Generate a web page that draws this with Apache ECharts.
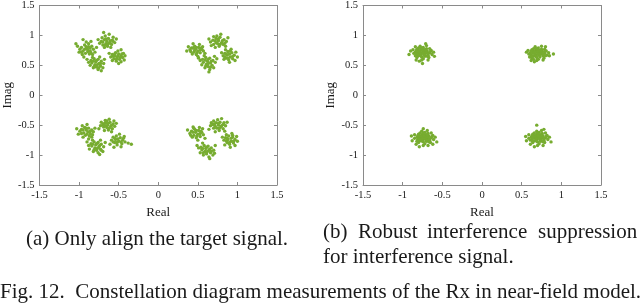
<!DOCTYPE html>
<html>
<head>
<meta charset="utf-8">
<script src="https://cdn.jsdelivr.net/npm/echarts@6/dist/echarts.min.js"></script>
<style>
html,body{margin:0;padding:0;background:#fff;}
#chart{width:640px;height:303px;}
</style>
</head>
<body>
<div id="chart"></div>
<script>
// ---- data ----
const axisTicks = [-1.5, -1, -0.5, 0, 0.5, 1, 1.5];
const xName = 'Real';
const yName = 'Imag';
const captionA = '(a) Only align the target signal.';
const captionB1 = ['(b)', 'Robust', 'interference', 'suppression'];
const captionB2 = 'for interference signal.';
const figCaption = 'Fig. 12.  Constellation diagram measurements of the Rx in near-field model.';

// (a) Only align the target signal: four quadrants, each several sub-clusters
const aTopLeft = [
 [-0.97,0.80],[-0.93,0.84],[-0.88,0.86],[-0.84,0.82],[-0.90,0.78],[-0.95,0.74],[-0.99,0.77],[-0.86,0.74],[-0.82,0.77],[-0.92,0.70],[-0.87,0.69],[-0.80,0.72],[-0.96,0.68],[-1.02,0.82],[-0.91,0.89],[-0.85,0.90],[-0.78,0.80],[-0.94,0.64],[-0.89,0.73],[-0.83,0.68],[-1.00,0.72],[-0.88,0.81],
 [-0.91,0.81],[-0.86,0.79],[-0.93,0.77],[-0.89,0.76],[-0.85,0.71],[-0.97,0.72],
 [-0.72,0.90],[-0.68,0.93],[-0.63,0.95],[-0.58,0.92],[-0.61,0.88],[-0.66,0.86],[-0.70,0.84],[-0.74,0.87],[-0.64,0.82],[-0.59,0.85],[-0.55,0.88],[-0.67,0.99],[-0.62,1.02],[-0.69,1.05],[-0.57,0.97],[-0.76,0.93],[-0.71,0.96],[-0.60,0.80],[-0.53,0.94],[-0.65,0.90],[-0.68,0.80],
 [-0.66,0.94],[-0.61,0.91],[-0.70,0.89],[-0.63,0.86],[-0.57,0.90],[-0.67,0.84],
 [-0.58,0.68],[-0.54,0.71],[-0.50,0.69],[-0.47,0.66],[-0.52,0.63],[-0.56,0.61],[-0.60,0.64],[-0.49,0.60],[-0.45,0.63],[-0.53,0.57],[-0.58,0.58],[-0.44,0.70],[-0.51,0.74],[-0.62,0.70],[-0.47,0.56],[-0.55,0.66],[-0.42,0.66],[-0.50,0.53],
 [-0.55,0.69],[-0.51,0.66],[-0.48,0.63],[-0.53,0.60],[-0.57,0.65],[-0.46,0.69],
 [-0.85,0.58],[-0.81,0.61],[-0.76,0.60],[-0.72,0.57],[-0.75,0.53],[-0.80,0.51],[-0.84,0.54],[-0.88,0.55],[-0.78,0.47],[-0.73,0.49],[-0.69,0.53],[-0.82,0.46],[-0.76,0.43],[-0.70,0.46],[-0.86,0.50],[-0.79,0.56],[-0.68,0.60],[-0.74,0.64],[-0.90,0.60],[-0.72,0.41],[-0.83,0.63],
 [-0.82,0.57],[-0.78,0.58],[-0.77,0.51],[-0.81,0.48],[-0.73,0.53],[-0.75,0.46],
 [-1.04,0.86],[-0.47,0.76],[-0.95,0.93],[-0.43,0.59]
];
const aTopRight = [
 [0.42,0.79],[0.46,0.82],[0.51,0.80],[0.55,0.77],[0.50,0.74],[0.45,0.72],[0.40,0.76],[0.53,0.71],[0.57,0.74],[0.48,0.68],[0.43,0.69],[0.56,0.81],[0.38,0.81],[0.52,0.85],[0.47,0.77],[0.59,0.70],[0.44,0.86],[0.36,0.74],[0.50,0.65],[0.54,0.79],
 [0.44,0.79],[0.48,0.80],[0.49,0.71],[0.53,0.76],[0.41,0.73],[0.46,0.75],
 [0.69,0.92],[0.73,0.95],[0.78,0.97],[0.83,0.93],[0.80,0.88],[0.75,0.86],[0.70,0.85],[0.66,0.89],[0.77,0.82],[0.82,0.85],[0.86,0.90],[0.74,0.99],[0.79,1.02],[0.70,0.98],[0.88,0.96],[0.64,0.94],[0.72,0.80],[0.85,0.82],[0.76,0.91],[0.67,0.83],
 [0.72,0.91],[0.76,0.94],[0.81,0.91],[0.78,0.85],[0.73,0.88],[0.84,0.87],
 [0.84,0.70],[0.88,0.73],[0.93,0.71],[0.96,0.67],[0.91,0.64],[0.86,0.62],[0.82,0.66],[0.89,0.59],[0.94,0.61],[0.98,0.72],[0.85,0.76],[0.80,0.71],[0.92,0.77],[0.97,0.58],[0.87,0.67],[0.83,0.60],[1.00,0.64],[0.90,0.55],
 [0.86,0.69],[0.90,0.69],[0.94,0.65],[0.88,0.62],[0.91,0.74],[0.84,0.64],
 [0.56,0.60],[0.60,0.63],[0.65,0.62],[0.69,0.58],[0.66,0.54],[0.61,0.52],[0.57,0.55],[0.53,0.58],[0.63,0.48],[0.68,0.50],[0.72,0.55],[0.59,0.46],[0.65,0.43],[0.70,0.46],[0.55,0.51],[0.62,0.57],[0.74,0.61],[0.58,0.66],[0.64,0.39],[0.51,0.62],[0.71,0.65],
 [0.59,0.59],[0.63,0.60],[0.67,0.57],[0.63,0.53],[0.60,0.49],[0.66,0.47]
];
const aBottomLeft = [
 [-0.97,-0.57],[-0.93,-0.54],[-0.88,-0.55],[-0.84,-0.58],[-0.89,-0.61],[-0.94,-0.63],[-0.99,-0.60],[-0.86,-0.64],[-0.82,-0.61],[-0.92,-0.67],[-0.87,-0.68],[-0.96,-0.51],[-1.01,-0.65],[-0.90,-0.49],[-0.80,-0.55],[-0.95,-0.70],[-0.84,-0.70],[-0.91,-0.58],[-1.03,-0.56],[-0.88,-0.73],
 [-0.95,-0.58],[-0.91,-0.55],[-0.86,-0.60],[-0.90,-0.65],[-0.97,-0.64],[-0.83,-0.66],
 [-0.70,-0.49],[-0.66,-0.46],[-0.61,-0.45],[-0.57,-0.48],[-0.60,-0.52],[-0.65,-0.54],[-0.69,-0.53],[-0.73,-0.51],[-0.63,-0.58],[-0.58,-0.56],[-0.55,-0.52],[-0.67,-0.42],[-0.62,-0.40],[-0.72,-0.45],[-0.56,-0.43],[-0.75,-0.56],[-0.68,-0.59],[-0.53,-0.47],[-0.64,-0.50],[-0.59,-0.61],
 [-0.68,-0.47],[-0.63,-0.47],[-0.59,-0.50],[-0.62,-0.55],[-0.67,-0.51],[-0.65,-0.43],
 [-0.57,-0.70],[-0.53,-0.68],[-0.48,-0.71],[-0.45,-0.75],[-0.50,-0.77],[-0.55,-0.79],[-0.59,-0.75],[-0.52,-0.83],[-0.46,-0.81],[-0.42,-0.78],[-0.61,-0.82],[-0.49,-0.65],[-0.43,-0.69],[-0.56,-0.87],[-0.38,-0.80],[-0.54,-0.74],[-0.47,-0.86],[-0.34,-0.82],
 [-0.55,-0.72],[-0.51,-0.73],[-0.47,-0.78],[-0.52,-0.79],[-0.57,-0.78],[-0.44,-0.72],
 [-0.85,-0.81],[-0.81,-0.78],[-0.76,-0.79],[-0.72,-0.82],[-0.75,-0.86],[-0.80,-0.88],[-0.84,-0.85],[-0.88,-0.84],[-0.78,-0.92],[-0.73,-0.90],[-0.69,-0.86],[-0.82,-0.94],[-0.76,-0.96],[-0.70,-0.94],[-0.87,-0.90],[-0.79,-0.83],[-0.67,-0.79],[-0.73,-0.75],[-0.90,-0.78],[-0.74,-0.99],[-0.83,-0.75],
 [-0.83,-0.82],[-0.78,-0.81],[-0.74,-0.84],[-0.77,-0.89],[-0.81,-0.91],[-0.72,-0.92]
];
const aBottomRight = [
 [0.42,-0.60],[0.46,-0.57],[0.51,-0.59],[0.55,-0.62],[0.50,-0.65],[0.45,-0.67],[0.40,-0.64],[0.53,-0.69],[0.57,-0.66],[0.48,-0.71],[0.43,-0.70],[0.56,-0.56],[0.37,-0.58],[0.52,-0.54],[0.47,-0.62],[0.59,-0.72],[0.44,-0.53],[0.50,-0.75],[0.54,-0.60],
 [0.44,-0.62],[0.48,-0.59],[0.53,-0.64],[0.49,-0.68],[0.45,-0.55],[0.41,-0.67],
 [0.69,-0.49],[0.73,-0.46],[0.78,-0.45],[0.82,-0.49],[0.79,-0.53],[0.74,-0.55],[0.70,-0.55],[0.66,-0.51],[0.77,-0.59],[0.82,-0.56],[0.85,-0.51],[0.75,-0.41],[0.80,-0.39],[0.70,-0.43],[0.87,-0.45],[0.64,-0.57],[0.72,-0.61],[0.84,-0.60],[0.76,-0.50],[0.67,-0.46],
 [0.71,-0.48],[0.76,-0.47],[0.80,-0.51],[0.77,-0.55],[0.72,-0.52],[0.83,-0.46],
 [0.85,-0.71],[0.89,-0.68],[0.94,-0.70],[0.97,-0.74],[0.92,-0.77],[0.87,-0.79],[0.83,-0.75],[0.90,-0.82],[0.95,-0.80],[0.99,-0.69],[0.86,-0.66],[0.81,-0.70],[0.93,-0.64],[0.97,-0.84],[0.88,-0.74],[0.84,-0.83],[1.00,-0.77],[0.91,-0.87],
 [0.87,-0.72],[0.92,-0.72],[0.95,-0.77],[0.90,-0.79],[0.86,-0.76],[0.94,-0.67],
 [0.54,-0.87],[0.58,-0.84],[0.63,-0.85],[0.67,-0.88],[0.64,-0.92],[0.59,-0.94],[0.55,-0.91],[0.51,-0.88],[0.61,-0.98],[0.66,-0.96],[0.70,-0.92],[0.57,-1.00],[0.64,-1.03],[0.69,-1.00],[0.53,-0.96],[0.60,-0.89],[0.72,-0.84],[0.56,-0.80],[0.65,-1.06],[0.49,-0.84],[0.71,-0.97],
 [0.56,-0.89],[0.61,-0.87],[0.65,-0.90],[0.62,-0.94],[0.57,-0.96],[0.67,-0.94]
];

// (b) Robust interference suppression: four tight clouds
const bTopLeft = [
 [-0.84,0.72],[-0.81,0.75],[-0.77,0.77],[-0.73,0.76],[-0.69,0.74],[-0.66,0.71],[-0.68,0.67],[-0.72,0.65],[-0.76,0.64],[-0.80,0.66],[-0.83,0.68],[-0.79,0.71],[-0.75,0.72],[-0.71,0.70],[-0.77,0.68],[-0.73,0.68],[-0.80,0.79],[-0.74,0.80],[-0.70,0.78],[-0.64,0.75],[-0.63,0.68],[-0.67,0.63],[-0.74,0.61],[-0.82,0.63],[-0.86,0.70],[-0.87,0.76],[-0.78,0.82],[-0.70,0.83],[-0.61,0.72],[-0.78,0.74],[-0.72,0.73],[-0.82,0.77],[-0.66,0.78],[-0.76,0.59],[-0.90,0.74],[-0.83,0.59],[-0.79,0.57],[-0.75,0.53],[-0.71,0.86],[-0.84,0.81],[-0.60,0.65],[-0.68,0.59],[-0.92,0.68],
 [-0.81,0.70],[-0.78,0.69],[-0.74,0.70],[-0.70,0.72],[-0.75,0.76],[-0.79,0.73],[-0.72,0.67],[-0.68,0.70],[-0.83,0.74],[-0.77,0.66],[-0.65,0.73],[-0.81,0.67],[-0.71,0.76],[-0.76,0.79],[-0.84,0.66],[-0.69,0.65]
];
const bTopRight = [
 [0.61,0.71],[0.64,0.74],[0.68,0.76],[0.72,0.75],[0.76,0.73],[0.79,0.70],[0.77,0.66],[0.73,0.64],[0.69,0.63],[0.65,0.65],[0.62,0.67],[0.66,0.70],[0.70,0.71],[0.74,0.69],[0.68,0.67],[0.72,0.67],[0.65,0.78],[0.71,0.79],[0.75,0.77],[0.81,0.74],[0.82,0.67],[0.78,0.62],[0.71,0.60],[0.63,0.62],[0.59,0.69],[0.58,0.75],[0.67,0.81],[0.75,0.82],[0.84,0.71],[0.67,0.73],[0.73,0.72],[0.63,0.76],[0.79,0.77],[0.69,0.58],[0.85,0.66],[0.90,0.69],[0.62,0.58],[0.77,0.59],[0.56,0.72],[0.80,0.81],[0.66,0.56],[0.60,0.64],
 [0.64,0.70],[0.67,0.68],[0.71,0.69],[0.75,0.71],[0.70,0.74],[0.66,0.72],[0.73,0.66],[0.77,0.69],[0.62,0.74],[0.68,0.65],[0.79,0.73],[0.63,0.65],[0.74,0.75],[0.69,0.78],[0.80,0.66],[0.65,0.60]
];
const bBottomLeft = [
 [-0.82,-0.70],[-0.79,-0.67],[-0.75,-0.65],[-0.71,-0.66],[-0.67,-0.68],[-0.64,-0.71],[-0.66,-0.75],[-0.70,-0.77],[-0.74,-0.78],[-0.78,-0.76],[-0.81,-0.74],[-0.77,-0.71],[-0.73,-0.70],[-0.69,-0.72],[-0.75,-0.74],[-0.71,-0.74],[-0.78,-0.63],[-0.72,-0.62],[-0.68,-0.64],[-0.62,-0.67],[-0.61,-0.74],[-0.65,-0.79],[-0.72,-0.81],[-0.80,-0.79],[-0.85,-0.72],[-0.85,-0.66],[-0.76,-0.60],[-0.69,-0.59],[-0.59,-0.70],[-0.76,-0.68],[-0.70,-0.69],[-0.80,-0.65],[-0.64,-0.63],[-0.74,-0.84],[-0.88,-0.76],[-0.83,-0.82],[-0.68,-0.84],[-0.57,-0.78],[-0.74,-0.56],[-0.62,-0.82],[-0.89,-0.68],[-0.79,-0.86],
 [-0.79,-0.71],[-0.76,-0.72],[-0.72,-0.72],[-0.68,-0.70],[-0.73,-0.67],[-0.77,-0.69],[-0.70,-0.75],[-0.66,-0.73],[-0.81,-0.68],[-0.75,-0.77],[-0.63,-0.69],[-0.79,-0.73],[-0.69,-0.66],[-0.74,-0.63],[-0.82,-0.77],[-0.67,-0.78]
];
const bBottomRight = [
 [0.62,-0.70],[0.65,-0.67],[0.69,-0.65],[0.73,-0.66],[0.77,-0.68],[0.80,-0.71],[0.78,-0.75],[0.74,-0.77],[0.70,-0.78],[0.66,-0.76],[0.63,-0.74],[0.67,-0.71],[0.71,-0.70],[0.75,-0.72],[0.69,-0.74],[0.73,-0.74],[0.66,-0.63],[0.72,-0.62],[0.76,-0.64],[0.82,-0.67],[0.83,-0.74],[0.79,-0.79],[0.72,-0.81],[0.64,-0.79],[0.59,-0.72],[0.59,-0.66],[0.69,-0.60],[0.75,-0.59],[0.85,-0.70],[0.68,-0.68],[0.74,-0.69],[0.64,-0.65],[0.80,-0.63],[0.70,-0.84],[0.56,-0.76],[0.61,-0.82],[0.77,-0.84],[0.87,-0.78],[0.69,-0.50],[0.78,-0.57],[0.55,-0.69],[0.66,-0.86],
 [0.65,-0.71],[0.68,-0.72],[0.72,-0.72],[0.76,-0.70],[0.71,-0.67],[0.67,-0.69],[0.74,-0.75],[0.78,-0.73],[0.63,-0.68],[0.69,-0.77],[0.81,-0.69],[0.64,-0.77],[0.75,-0.66],[0.70,-0.63],[0.61,-0.75],[0.77,-0.78]
];

// ---- chart ----
const FONT = '"Liberation Serif", "Times New Roman", serif';
const AXIS_COLOR = '#8a8a8a';
const TEXT_COLOR = '#1a1a1a';
const GREEN = '#77AC30';
const tmin = axisTicks[0], tmax = axisTicks[axisTicks.length - 1], tstep = axisTicks[1] - axisTicks[0];

function mkAxis(kind, gridIndex, position, main) {
  return {
    type: 'value', gridIndex: gridIndex, position: position,
    min: tmin, max: tmax, interval: tstep,
    axisLine: { show: true, onZero: false, lineStyle: { color: AXIS_COLOR, width: 1 } },
    axisTick: { show: true, inside: true, length: 3, lineStyle: { color: AXIS_COLOR } },
    splitLine: { show: false },
    axisLabel: { show: main, color: TEXT_COLOR, fontFamily: FONT, fontSize: 10.5, margin: 5,
      showMinLabel: true, showMaxLabel: true },
    name: main ? (kind === 'x' ? xName : yName) : '',
    nameLocation: 'middle',
    nameGap: kind === 'x' ? 18 : 24,
    nameTextStyle: { color: TEXT_COLOR, fontFamily: FONT, fontSize: 13 }
  };
}

const grids = [
  { left: 39, top: 5, width: 238, height: 180 },
  { left: 363, top: 5, width: 238, height: 180 }
];

const capFont = '21px ' + FONT;
function capText(x, y, t) {
  return { type: 'text', left: x, top: y, style: { text: t, font: capFont, fill: TEXT_COLOR } };
}

const option = {
  animation: false,
  backgroundColor: '#ffffff',
  grid: grids,
  xAxis: [
    mkAxis('x', 0, 'bottom', true), mkAxis('x', 0, 'top', false),
    mkAxis('x', 1, 'bottom', true), mkAxis('x', 1, 'top', false)
  ],
  yAxis: [
    mkAxis('y', 0, 'left', true), mkAxis('y', 0, 'right', false),
    mkAxis('y', 1, 'left', true), mkAxis('y', 1, 'right', false)
  ],
  series: [
    { type: 'scatter', xAxisIndex: 0, yAxisIndex: 0, symbolSize: 3.4,
      itemStyle: { color: GREEN, opacity: 1 },
      data: [].concat(aTopLeft, aTopRight, aBottomLeft, aBottomRight) },
    { type: 'scatter', xAxisIndex: 2, yAxisIndex: 2, symbolSize: 3.4,
      itemStyle: { color: GREEN, opacity: 1 },
      data: [].concat(bTopLeft, bTopRight, bBottomLeft, bBottomRight) }
  ],
  graphic: [
    capText(26, 229, captionA),
    capText(323, 222, captionB1[0]),
    capText(358, 222, captionB1[1]),
    capText(427, 222, captionB1[2]),
    capText(538, 222, captionB1[3]),
    capText(323, 247, captionB2),
    capText(0, 282, figCaption)
  ]
};

const chart = echarts.init(document.getElementById('chart'), null, { renderer: 'canvas' });
chart.setOption(option);
</script>
</body>
</html>
